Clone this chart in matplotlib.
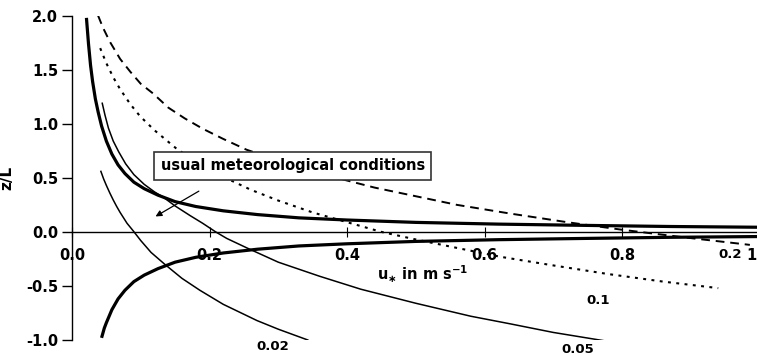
import matplotlib
matplotlib.use("Agg")
import matplotlib.pyplot as plt

plt.rcParams["font.family"] = ["DejaVu Sans"]
plt.rcParams["font.weight"] = "bold"
plt.rcParams["mathtext.default"] = "bf"
plt.rcParams["axes.unicode_minus"] = False

# curves (u* in m/s, z/L)
thick_up_x = [0.021, 0.024, 0.027, 0.030, 0.034, 0.038, 0.043, 0.050, 0.058, 0.067, 0.077,
              0.090, 0.105, 0.125, 0.15, 0.18, 0.22, 0.27, 0.33, 0.40, 0.50, 0.62, 0.75,
              0.87, 1.0]
thick_up_y = [1.98, 1.74, 1.54, 1.39, 1.23, 1.11, 0.98, 0.84, 0.72, 0.62, 0.54,
              0.46, 0.40, 0.34, 0.28, 0.235, 0.195, 0.16, 0.13, 0.11, 0.088, 0.072, 0.06,
              0.05, 0.043]

thick_lo_x = [0.043, 0.047, 0.050, 0.058, 0.067, 0.077, 0.090, 0.105, 0.125, 0.15, 0.18,
              0.22, 0.27, 0.33, 0.40, 0.50, 0.62, 0.75, 0.87, 1.0]
thick_lo_y = [-0.98, -0.89, -0.84, -0.72, -0.62, -0.54, -0.46, -0.40, -0.34, -0.28, -0.235,
              -0.195, -0.16, -0.13, -0.11, -0.088, -0.072, -0.06, -0.05, -0.043]

c002_x = [0.042, 0.046, 0.050, 0.055, 0.060, 0.065, 0.070, 0.080, 0.089, 0.100, 0.115,
          0.135, 0.160, 0.186, 0.22, 0.269, 0.30, 0.343]
c002_y = [0.56, 0.49, 0.43, 0.36, 0.295, 0.235, 0.18, 0.08, 0.01, -0.08, -0.19,
          -0.30, -0.43, -0.54, -0.67, -0.82, -0.90, -1.00]

c005_x = [0.044, 0.048, 0.053, 0.060, 0.068, 0.078, 0.090, 0.105, 0.120, 0.133, 0.150,
          0.172, 0.19, 0.209, 0.225, 0.255, 0.30, 0.36, 0.42, 0.50, 0.58, 0.637, 0.70, 0.777]
c005_y = [1.19, 1.08, 0.96, 0.84, 0.74, 0.63, 0.53, 0.44, 0.37, 0.32, 0.24,
          0.15, 0.08, 0.0, -0.06, -0.15, -0.28, -0.41, -0.53, -0.66, -0.78, -0.85, -0.93, -1.01]

c01_x = [0.041, 0.05, 0.06, 0.07, 0.085, 0.099, 0.12, 0.152, 0.19, 0.22, 0.26,
         0.30, 0.35, 0.40, 0.45, 0.50, 0.569, 0.623, 0.70, 0.78, 0.86, 0.94]
c01_y = [1.70, 1.56, 1.43, 1.32, 1.18, 1.07, 0.94, 0.77, 0.61, 0.51, 0.39,
         0.29, 0.18, 0.09, 0.0, -0.07, -0.16, -0.23, -0.31, -0.39, -0.46, -0.52]

c02_x = [0.038, 0.045, 0.055, 0.070, 0.085, 0.100, 0.118, 0.14, 0.164, 0.19, 0.22,
         0.254, 0.30, 0.34, 0.385, 0.44, 0.50, 0.56, 0.637, 0.72, 0.80, 0.89, 0.986]
c02_y = [2.0, 1.89, 1.76, 1.60, 1.48, 1.37, 1.28, 1.15, 1.05, 0.955, 0.86,
         0.76, 0.66, 0.58, 0.50, 0.41, 0.33, 0.25, 0.17, 0.09, 0.02, -0.05, -0.12]

curve_labels = ["0.02", "0.05", "0.1", "0.2"]
curve_label_x = [0.292, 0.735, 0.765, 0.957]
curve_label_y = [-1.06, -1.09, -0.63, -0.21]

x_ticks = [0.0, 0.2, 0.4, 0.6, 0.8, 1.0]
y_ticks = [-1.0, -0.5, 0.0, 0.5, 1.0, 1.5, 2.0]

fig = plt.figure(figsize=(7.57, 3.56), dpi=100)
ax = fig.add_axes([72 / 757, 16 / 356, 687.5 / 757, 324.3 / 356])

ax.plot(thick_up_x, thick_up_y, color="black", lw=2.3, solid_capstyle="butt")
ax.plot(thick_lo_x, thick_lo_y, color="black", lw=2.3, solid_capstyle="butt")
ax.plot(c002_x, c002_y, color="black", lw=1.1)
ax.plot(c005_x, c005_y, color="black", lw=1.1)
ax.plot(c01_x, c01_y, color="black", lw=1.5, linestyle=(0, (1.4, 2.6)))
ax.plot(c02_x, c02_y, color="black", lw=1.4, linestyle=(0, (4.5, 3)))

for lab, lx, ly in zip(curve_labels, curve_label_x, curve_label_y):
    ax.text(lx, ly, lab, ha="center", va="center", fontsize=9.5, fontweight="bold")

ax.text(0.321, 0.61, "usual meteorological conditions", ha="center", va="center",
        fontsize=10.5, fontweight="bold", zorder=5,
        bbox=dict(boxstyle="square,pad=0.45", facecolor="white", edgecolor="#333333", lw=1.2))
ax.annotate("", xy=(0.118, 0.13), xytext=(0.188, 0.39),
            arrowprops=dict(arrowstyle="-|>", color="black", lw=0.9, mutation_scale=9))

ax.text(0.51, -0.39, r"u$_{\ast}$ in m s$^{-1}$", ha="center", va="center",
        fontsize=10.5, fontweight="bold")

ax.set_xlim(0, 1.0)
ax.set_ylim(-1.0, 2.0)
ax.spines["top"].set_visible(False)
ax.spines["right"].set_visible(False)
ax.spines["bottom"].set_position(("data", 0))
ax.spines["bottom"].set_linewidth(1.0)
ax.spines["left"].set_linewidth(1.0)

ax.set_xticks(x_ticks)
ax.set_xticklabels([f"{t:.1f}" for t in x_ticks], fontsize=10.5, fontweight="bold",
                   bbox=dict(facecolor="white", edgecolor="none", pad=1.0))
ax.set_yticks(y_ticks)
ax.set_yticklabels([f"{t:.1f}" for t in y_ticks], fontsize=10.5, fontweight="bold")
ax.tick_params(axis="x", direction="inout", length=7, width=0.8, pad=8)
ax.tick_params(axis="y", direction="out", length=7, width=1.0, pad=3)

ax.set_ylabel("z/L", fontsize=11, fontweight="bold")
ax.yaxis.set_label_coords(-0.084, 0.5)

fig.savefig("out.png", dpi=100)
